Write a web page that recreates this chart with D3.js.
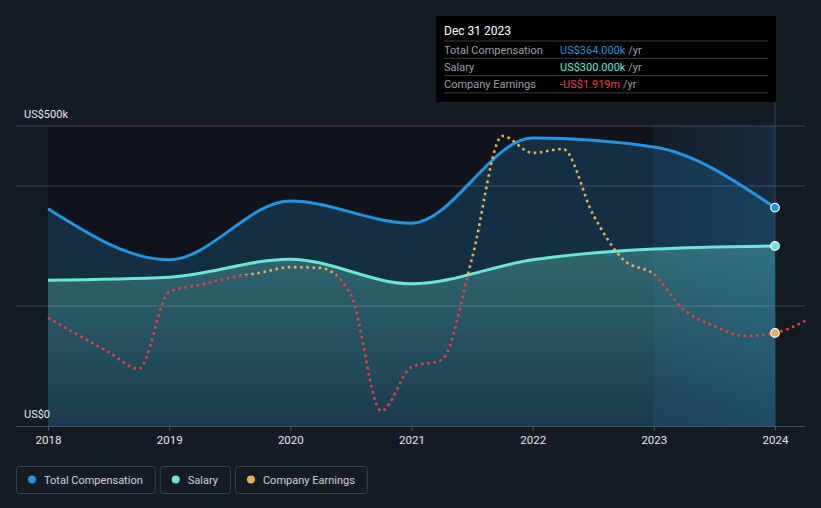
<!DOCTYPE html>
<html><head><meta charset="utf-8">
<script src="https://cdn.jsdelivr.net/npm/d3@7"></script>
<style>
html,body{margin:0;padding:0;background:#151b24;}
svg{display:block;font-family:Roboto,"Noto Sans",sans-serif;}
</style></head>
<body><svg id="c" width="821" height="508"></svg>
<script>
// ---- data ----
const compYears   = [2018, 2019, 2020, 2021, 2022, 2023, 2024];
const totalComp   = [362, 277, 375, 338, 480, 465, 364];   // US$k
const salary      = [243, 248, 278, 237, 277, 295, 300];   // US$k
const earnYears   = [2018, 2018.25, 2018.5, 2018.75, 2019, 2019.25, 2019.5, 2019.75, 2020, 2020.25, 2020.5, 2020.75,
                     2021, 2021.25, 2021.5, 2021.75, 2022, 2022.25, 2022.5, 2022.75, 2023, 2023.25, 2023.5, 2023.75, 2024, 2024.25];
const earnings    = [-1.42, -1.99, -2.55, -3.11, -0.56, -0.33, -0.10, 0.07, 0.26, 0.23, -0.66, -4.50,
                     -3.05, -2.81, 0.56, 4.60, 4.04, 4.17, 1.99, 0.50, 0.02, -1.16, -1.69, -2.02, -1.919, -1.52]; // US$m
const xTicks      = [2018, 2019, 2020, 2021, 2022, 2023, 2024];
const yTickLabels = [{v: 500, t: "US$500k"}, {v: 0, t: "US$0"}];
const gridVals    = [500, 400, 200];
const legendItems = [{name: "Total Compensation", color: "#2394df"}, {name: "Salary", color: "#6ce5d3"}, {name: "Company Earnings", color: "#e9b05d"}];
const tooltipTitle = "Dec 31 2023";
const tooltipRows = [
  {label: "Total Compensation", value: "US$364.000k", color: "#2394df"},
  {label: "Salary", value: "US$300.000k", color: "#6ce5d3"},
  {label: "Company Earnings", value: "-US$1.919m", color: "#e64141"}
];

const svg = d3.select("#c");
const x = d3.scaleLinear().domain([2018, 2024]).range([48, 775]);
const y = d3.scaleLinear().domain([0, 500]).range([426, 126]);
const yE = d3.scaleLinear().domain([-5.0, 4.93]).range([426, 126]);

const defs = svg.append("defs");
const gS = defs.append("linearGradient").attr("id","gS").attr("x1",0).attr("y1",0).attr("x2",0).attr("y2",1);
gS.append("stop").attr("offset","0%").attr("stop-color","#6ce5d3").attr("stop-opacity",0.32);
gS.append("stop").attr("offset","100%").attr("stop-color","#6ce5d3").attr("stop-opacity",0.07);
const gH = defs.append("linearGradient").attr("id","gH").attr("x1",0).attr("y1",0).attr("x2",1).attr("y2",0);
gH.append("stop").attr("offset","0%").attr("stop-color","#2394df").attr("stop-opacity",0.02);
gH.append("stop").attr("offset","100%").attr("stop-color","#2394df").attr("stop-opacity",0.14);
defs.append("clipPath").attr("id","cPos").append("rect").attr("x",0).attr("y",0).attr("width",821).attr("height",yE(0));
defs.append("clipPath").attr("id","cNeg").append("rect").attr("x",0).attr("y",yE(0)).attr("width",821).attr("height",508-yE(0));

// plot background
svg.append("rect").attr("x",x(2018)).attr("y",y(500)).attr("width",x(2023)-x(2018)).attr("height",y(0)-y(500)).attr("fill","#11151b");

const comp = compYears.map((d,i)=>({x:d, v: totalComp[i]}));
const sal = compYears.map((d,i)=>({x:d, v: salary[i]}));
const earn = earnYears.map((d,i)=>({x:d, v: earnings[i]}));

const curve = d3.curveMonotoneX;
svg.append("path").datum(comp)
  .attr("d", d3.area().x(d=>x(d.x)).y0(y(0)).y1(d=>y(d.v)).curve(curve))
  .attr("fill","#2394df").attr("fill-opacity",0.2);
svg.append("path").datum(sal)
  .attr("d", d3.area().x(d=>x(d.x)).y0(y(0)).y1(d=>y(d.v)).curve(curve))
  .attr("fill","url(#gS)");

// highlight band (last year)
svg.append("rect").attr("x",x(2023)).attr("y",y(500)).attr("width",x(2024)-x(2023)).attr("height",y(0)-y(500)).attr("fill","url(#gH)");
svg.append("line").attr("x1",x(2023)).attr("x2",x(2023)).attr("y1",y(500)).attr("y2",y(0)).attr("stroke","#2394df").attr("stroke-opacity",0.12).attr("stroke-width",1);

// grid
svg.selectAll(".grid").data(gridVals).enter().append("line")
  .attr("x1",16).attr("x2",805).attr("y1",d=>y(d)).attr("y2",d=>y(d))
  .attr("stroke","#ffffff").attr("stroke-opacity",0.2).attr("stroke-width",1);

// tooltip vertical line
svg.append("line").attr("x1",x(2024)).attr("x2",x(2024)).attr("y1",102).attr("y2",y(0))
  .attr("stroke","#2a5a80").attr("stroke-opacity",0.7).attr("stroke-width",1);

// lines
const line = d3.line().x(d=>x(d.x)).y(d=>y(d.v)).curve(curve);
svg.append("path").datum(comp).attr("d",line).attr("fill","none").attr("stroke","#2394df").attr("stroke-width",3);
svg.append("path").datum(sal).attr("d",line).attr("fill","none").attr("stroke","#6ce5d3").attr("stroke-width",3);

const eLine = d3.line().x(d=>x(d.x)).y(d=>yE(d.v)).curve(curve);
svg.append("path").datum(earn).attr("d",eLine).attr("fill","none").attr("stroke","#e9b05d")
  .attr("stroke-width",2.6).attr("stroke-dasharray","2.6 3.6").attr("clip-path","url(#cPos)");
svg.append("path").datum(earn).attr("d",eLine).attr("fill","none").attr("stroke","#e64141")
  .attr("stroke-width",2.6).attr("stroke-dasharray","2.6 3.6").attr("clip-path","url(#cNeg)");

// x axis
svg.append("line").attr("x1",16).attr("x2",805).attr("y1",y(0)+0.5).attr("y2",y(0)+0.5).attr("stroke","#4a4f58").attr("stroke-width",1);
const ax = svg.append("g").attr("transform",`translate(0,${y(0)+1})`)
  .call(d3.axisBottom(x).tickValues(xTicks).tickFormat(d3.format("d")).tickSize(4).tickPadding(5));
ax.select(".domain").remove();
ax.selectAll("line").attr("stroke","#4a4f58");
ax.selectAll("text").attr("fill","#e6e8eb").attr("font-size",11.5).attr("font-family","Roboto,sans-serif");

// y labels
svg.selectAll(".yl").data(yTickLabels).enter().append("text")
  .attr("x",24).attr("y",d=>y(d.v)-8).attr("fill","#e6e8eb").attr("font-size",11).text(d=>d.t);

// endpoint markers
const last = compYears.length-1;
[[y(totalComp[last]),"#2394df"],[y(salary[last]),"#6ce5d3"],[yE(earnings[earnings.length-2]),"#e9b05d"]].forEach(([cy,c])=>{
  svg.append("circle").attr("cx",x(2024)).attr("cy",cy).attr("r",4.3).attr("fill",c).attr("stroke","#ffffff").attr("stroke-width",1.2);
});

// tooltip
const tt = svg.append("g");
tt.append("rect").attr("x",436).attr("y",16).attr("width",340).attr("height",86).attr("fill","#000000");
tt.append("text").attr("x",444).attr("y",35).attr("fill","#ffffff").attr("font-size",12).text(tooltipTitle);
tooltipRows.forEach((r,i)=>{
  const yy = 41 + i*17.3;
  tt.append("line").attr("x1",444).attr("x2",768).attr("y1",yy).attr("y2",yy).attr("stroke","#3a3d42").attr("stroke-width",1);
  tt.append("text").attr("x",444).attr("y",yy+12.5).attr("fill","#9a9fa6").attr("font-size",11).text(r.label);
  const t = tt.append("text").attr("x",560).attr("y",yy+12.5).attr("font-size",11);
  t.append("tspan").attr("fill",r.color).text(r.value);
  t.append("tspan").attr("fill","#9a9fa6").text(" /yr");
});
tt.append("line").attr("x1",444).attr("x2",768).attr("y1",41+3*17.3).attr("y2",41+3*17.3).attr("stroke","#3a3d42").attr("stroke-width",1);

// legend
let lx = 16;
legendItems.forEach(it=>{
  const g = svg.append("g");
  const txt = g.append("text").attr("x",lx+28).attr("y",483.5).attr("fill","#d0d3d8").attr("font-size",11).text(it.name);
  const w = txt.node().getComputedTextLength() + 28 + 12;
  g.insert("rect","text").attr("x",lx+0.5).attr("y",466.5).attr("width",w).attr("height",27).attr("rx",3)
    .attr("fill","none").attr("stroke","#3d424b").attr("stroke-width",1);
  g.append("circle").attr("cx",lx+16).attr("cy",479.5).attr("r",4).attr("fill",it.color);
  lx += w + 5;
});
</script></body></html>
